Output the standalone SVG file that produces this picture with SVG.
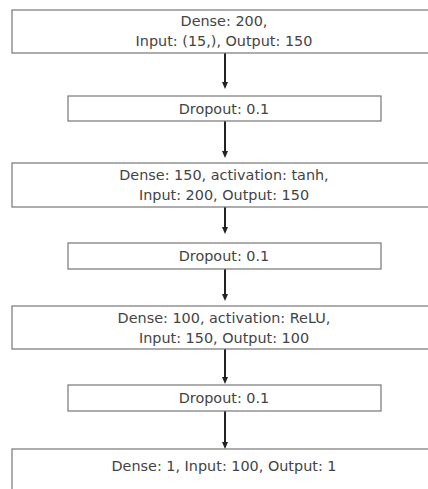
<svg xmlns="http://www.w3.org/2000/svg" width="428" height="489" viewBox="0 0 428 489">
<defs>
<style>
.box{fill:#fff;stroke:#777;stroke-width:1.2}
.t{font-family:"DejaVu Sans","Noto Sans",sans-serif;font-size:14.4px;fill:#444;text-anchor:middle}
.edge{stroke:#222;stroke-width:2;fill:none}
.head{fill:#222}
</style>
</defs>
<rect width="428" height="489" fill="#fff"/>
<g id="connectors">
<path class="edge" d="M225,53 V83"/><path class="head" d="M222,82 L228,82 L225,89 Z"/>
<path class="edge" d="M225,121 V152"/><path class="head" d="M222,151 L228,151 L225,158 Z"/>
<path class="edge" d="M225,207 V228"/><path class="head" d="M222,227 L228,227 L225,234 Z"/>
<path class="edge" d="M225,269 V295"/><path class="head" d="M222,294 L228,294 L225,301 Z"/>
<path class="edge" d="M225,349 V378"/><path class="head" d="M222,377 L228,377 L225,384 Z"/>
<path class="edge" d="M225,411 V443"/><path class="head" d="M222,442 L228,442 L225,449 Z"/>
</g>
<g id="dense1">
<rect class="box" x="12" y="10" width="426" height="43"/>
<text class="t" x="224" y="26">Dense: 200,</text>
<text class="t" x="224" y="46">Input: (15,), Output: 150</text>
</g>
<g id="dropout1">
<rect class="box" x="68" y="96" width="313" height="25"/>
<text class="t" x="224" y="113.5">Dropout: 0.1</text>
</g>
<g id="dense2">
<rect class="box" x="12" y="163" width="426" height="44"/>
<text class="t" x="224" y="180">Dense: 150, activation: tanh,</text>
<text class="t" x="224" y="200">Input: 200, Output: 150</text>
</g>
<g id="dropout2">
<rect class="box" x="68" y="243" width="313" height="26"/>
<text class="t" x="224" y="260.5">Dropout: 0.1</text>
</g>
<g id="dense3">
<rect class="box" x="12" y="306" width="426" height="43"/>
<text class="t" x="224" y="323">Dense: 100, activation: ReLU,</text>
<text class="t" x="224" y="343">Input: 150, Output: 100</text>
</g>
<g id="dropout3">
<rect class="box" x="68" y="385" width="313" height="26"/>
<text class="t" x="224" y="402.5">Dropout: 0.1</text>
</g>
<g id="dense4">
<rect class="box" x="12" y="449" width="426" height="60"/>
<text class="t" x="224" y="471">Dense: 1, Input: 100, Output: 1</text>
</g>
</svg>
